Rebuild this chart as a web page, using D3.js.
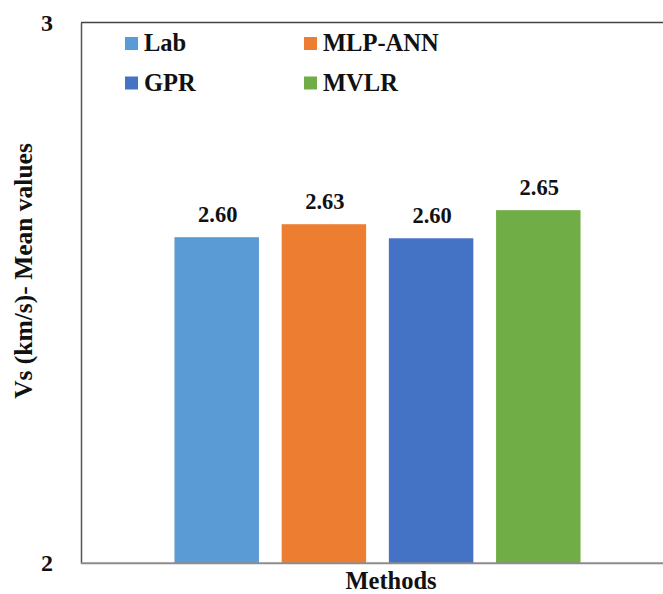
<!DOCTYPE html>
<html>
<head>
<meta charset="utf-8">
<script src="https://cdn.jsdelivr.net/npm/d3@7"></script>
<style>
  html, body { margin: 0; padding: 0; background: #fff; }
</style>
</head>
<body>
<svg id="chart" width="663" height="594" font-family="Liberation Serif" font-weight="bold"></svg>
<script>
// Mean shear-wave velocity (km/s) by method
const methods = ["Lab", "MLP-ANN", "GPR", "MVLR"];
const meanValues = [2.603, 2.627, 2.601, 2.653];
const colors = ["#5B9BD5", "#ED7D31", "#4472C4", "#70AD47"];
const yTicks = [2, 3];
const xTitle = "Methods";
const yTitle = "Vs (km/s)- Mean values";

const serif = "Liberation Serif";
const svg = d3.select("#chart");
const plot = { left: 81, right: 674, top: 22.5, bottom: 563.3 };

const x = d3.scaleBand()
  .domain(methods)
  .range([plot.left, plot.right])
  .paddingInner(0.212)
  .paddingOuter(0.872);

const y = d3.scaleLinear()
  .domain([2, 3])
  .range([plot.bottom, plot.top]);

// top gridline at the axis maximum
svg.append("line")
  .attr("x1", plot.left).attr("x2", 663)
  .attr("y1", y(3)).attr("y2", y(3))
  .attr("stroke", "#444").attr("stroke-width", 1.5);

// bars
svg.selectAll("rect.bar")
  .data(methods)
  .join("rect")
  .attr("class", "bar")
  .attr("x", d => x(d))
  .attr("width", x.bandwidth())
  .attr("y", (d, i) => y(meanValues[i]))
  .attr("height", (d, i) => y(2) - y(meanValues[i]))
  .attr("fill", (d, i) => colors[i]);

// value labels
svg.selectAll("text.val")
  .data(methods)
  .join("text")
  .attr("class", "val")
  .attr("x", d => x(d) + x.bandwidth() / 2 + 1)
  .attr("y", (d, i) => y(meanValues[i]) - 15)
  .attr("text-anchor", "middle")
  .attr("font-family", serif)
  .attr("font-weight", "bold")
  .attr("font-size", 22.5)
  .attr("fill", "#111")
  .text((d, i) => d3.format(".2f")(meanValues[i]));

// y axis line and ticks
const yAxis = d3.axisLeft(y).tickValues(yTicks).tickSize(0).tickPadding(28).tickFormat(d3.format("d"));
const gy = svg.append("g").attr("transform", `translate(${plot.left},0)`).call(yAxis);
gy.attr("font-family", serif).attr("font-size", 24);
gy.select(".domain").attr("stroke", "#555").attr("stroke-width", 1.5);
gy.selectAll("text")
  .attr("font-family", serif)
  .attr("font-weight", "bold")
  .attr("fill", "#111")
  .attr("text-anchor", "middle")
  .attr("x", 47 - plot.left);

// x axis baseline
svg.append("line")
  .attr("x1", plot.left).attr("x2", 663)
  .attr("y1", y(2)).attr("y2", y(2))
  .attr("stroke", "#8c8c8c").attr("stroke-width", 2);

// axis titles
svg.append("text")
  .attr("x", 391).attr("y", 589)
  .attr("text-anchor", "middle")
  .attr("font-family", serif)
  .attr("font-weight", "bold")
  .attr("font-size", 24.5)
  .attr("fill", "#111")
  .text(xTitle);

svg.append("text")
  .attr("transform", "translate(32,271) rotate(-90)")
  .attr("text-anchor", "middle")
  .attr("font-family", serif)
  .attr("font-weight", "bold")
  .attr("font-size", 25.5)
  .attr("fill", "#111")
  .text(yTitle);

// legend, two columns
const legendPos = [[125, 43.5], [304, 43.5], [125, 83], [304, 83]];
const lg = svg.selectAll("g.legend")
  .data(methods)
  .join("g")
  .attr("class", "legend")
  .attr("transform", (d, i) => `translate(${legendPos[i][0]},${legendPos[i][1]})`);
lg.append("rect")
  .attr("x", 0).attr("y", -6.5)
  .attr("width", 13).attr("height", 13)
  .attr("fill", (d, i) => colors[i]);
lg.append("text")
  .attr("x", 19).attr("y", 7.5)
  .attr("font-family", serif)
  .attr("font-weight", "bold")
  .attr("font-size", 24.5)
  .attr("fill", "#111")
  .text(d => d);
</script>
</body>
</html>
